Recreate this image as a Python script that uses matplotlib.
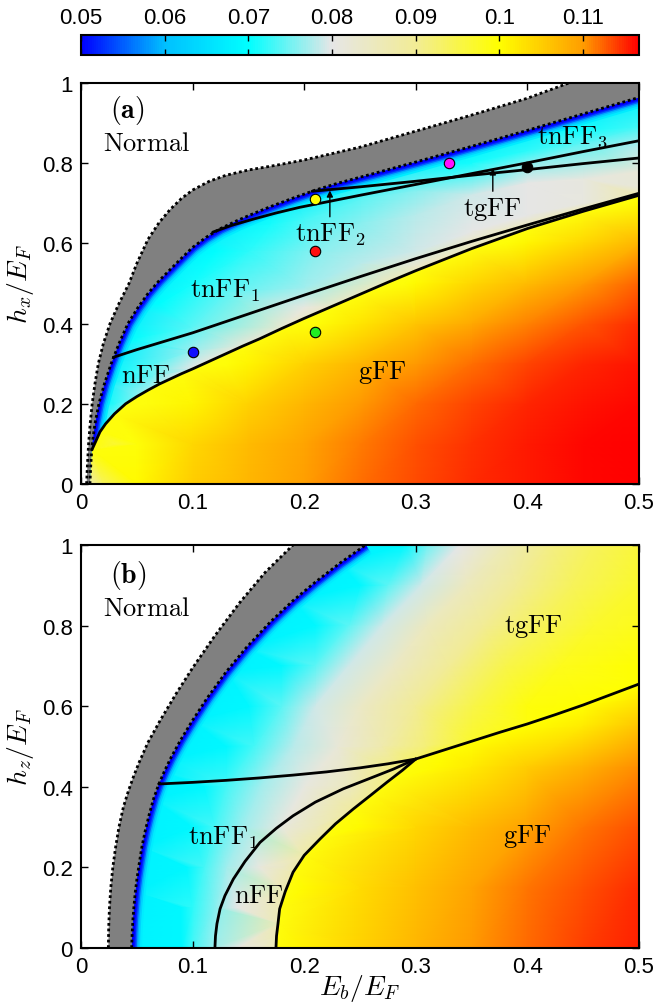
import numpy as np
import matplotlib
matplotlib.use('Agg')
import matplotlib.pyplot as plt
from matplotlib.colors import LinearSegmentedColormap, Normalize
from matplotlib.patches import Polygon
import matplotlib.tri as mtri
import matplotlib.cm as mcm

# ---------------- colour scale ----------------
CB_MIN, CB_MAX = 0.05, 0.1167
CB_TICKS = [0.05, 0.06, 0.07, 0.08, 0.09, 0.10, 0.11]
CB_TICKLABELS = ['0.05', '0.06', '0.07', '0.08', '0.09', '0.1', '0.11']
CMAP_VALUES = [0.05, 0.06, 0.07, 0.08, 0.09, 0.10, 0.11, 0.1167]
CMAP_COLORS = ['#0000ff', '#00c0ff', '#00ffff', '#e6e6e6', '#f2ec96',
               '#ffff00', '#ff9e00', '#ff0000']
# deep-blue rim just inside the superfluid boundary (values 0.068 -> 0.05)
RIM_VALUES = [0.067, 0.063, 0.059, 0.055, 0.052, 0.050]

# ---------------- axes ticks ----------------
X_TICKS = [0, 0.1, 0.2, 0.3, 0.4, 0.5]
X_TICKLABELS = ['0', '0.1', '0.2', '0.3', '0.4', '0.5']
Y_TICKS = [0, 0.2, 0.4, 0.6, 0.8, 1.0]
Y_TICKLABELS = ['0', '0.2', '0.4', '0.6', '0.8', '1']

# ======================= panel (a): h_x =======================
A_OUTER_EB = [0.005, 0.0058, 0.0068, 0.0082, 0.010, 0.0125, 0.0155, 0.020, 0.026, 0.034,
              0.043, 0.050, 0.060, 0.070, 0.080, 0.090, 0.100, 0.115, 0.130, 0.150,
              0.175, 0.200, 0.250, 0.300, 0.350, 0.400, 0.437]
A_OUTER_HX = [0.0, 0.05, 0.10, 0.15, 0.20, 0.25, 0.30, 0.35, 0.40, 0.45,
              0.50, 0.55, 0.61, 0.652, 0.685, 0.712, 0.733, 0.755, 0.77, 0.783,
              0.795, 0.808, 0.84, 0.88, 0.92, 0.962, 1.0]
A_INNER_EB = [0.008, 0.0088, 0.010, 0.0125, 0.016, 0.021, 0.027, 0.034, 0.042, 0.051,
              0.060, 0.070, 0.080, 0.090, 0.100, 0.112, 0.125, 0.140, 0.155, 0.170,
              0.190, 0.210, 0.230, 0.250, 0.300, 0.350, 0.400, 0.450, 0.500]
A_INNER_HX = [0.0, 0.05, 0.10, 0.15, 0.20, 0.25, 0.30, 0.35, 0.40, 0.44,
              0.475, 0.507, 0.535, 0.563, 0.59, 0.615, 0.637, 0.657, 0.675, 0.692,
              0.713, 0.733, 0.75, 0.765, 0.803, 0.842, 0.882, 0.923, 0.964]
# tnFF1 / tnFF3 line (A) and tnFF2 / tgFF line (B)
A_LINE_A_EB = [0.118, 0.135, 0.155, 0.175, 0.196, 0.25, 0.30, 0.35, 0.40, 0.45, 0.50]
A_LINE_A_HX = [0.628, 0.645, 0.661, 0.676, 0.69, 0.72, 0.747, 0.774, 0.801, 0.829, 0.856]
A_LINE_B_EB = [0.207, 0.25, 0.30, 0.35, 0.40, 0.45, 0.50]
A_LINE_B_HX = [0.730, 0.741, 0.755, 0.77, 0.784, 0.799, 0.813]
# tnFF1 / nFF line (C) and nFF / gFF line (D)
A_LINE_C_EB = [0.029, 0.05, 0.075, 0.10, 0.15, 0.20, 0.25, 0.30, 0.35, 0.40, 0.45, 0.50]
A_LINE_C_HX = [0.316, 0.335, 0.356, 0.377, 0.424, 0.471, 0.517, 0.562, 0.605, 0.646, 0.686, 0.725]
A_LINE_D_EB = [0.0097, 0.013, 0.017, 0.022, 0.030, 0.040, 0.050, 0.060, 0.070, 0.080,
               0.090, 0.100, 0.115, 0.130, 0.145, 0.160, 0.180, 0.200, 0.225, 0.250,
               0.275, 0.300, 0.350, 0.400, 0.450, 0.500]
A_LINE_D_HX = [0.085, 0.105, 0.13, 0.15, 0.175, 0.20, 0.218, 0.234, 0.249, 0.262,
               0.275, 0.287, 0.306, 0.325, 0.344, 0.362, 0.388, 0.413, 0.443, 0.473,
               0.503, 0.532, 0.587, 0.637, 0.68, 0.72]

# colour field
A_EDGE_VALUE = 0.068
A_D_TOP_VAL = [0.071, 0.072, 0.073, 0.073, 0.074, 0.075, 0.076, 0.077, 0.078, 0.079,
               0.0795, 0.080, 0.081, 0.0815, 0.082, 0.0825, 0.083, 0.0835, 0.084, 0.0845,
               0.085, 0.085, 0.0855, 0.086, 0.0865, 0.087]
A_TN_EB = [0.030, 0.045, 0.065, 0.045, 0.07, 0.10, 0.10, 0.10, 0.13, 0.15,
           0.20, 0.20, 0.21, 0.20, 0.25, 0.25, 0.25, 0.30, 0.30, 0.30,
           0.30, 0.35, 0.35, 0.35, 0.40, 0.40, 0.40, 0.40, 0.40, 0.45,
           0.45, 0.45, 0.45, 0.50, 0.50, 0.50, 0.50, 0.08, 0.12, 0.17]
A_TN_HX = [0.20, 0.28, 0.27, 0.36, 0.45, 0.50, 0.33, 0.39, 0.48, 0.58,
           0.44, 0.49, 0.58, 0.66, 0.55, 0.65, 0.71, 0.545, 0.58, 0.67,
           0.73, 0.63, 0.72, 0.80, 0.643, 0.67, 0.75, 0.79, 0.83, 0.70,
           0.76, 0.85, 0.88, 0.74, 0.78, 0.84, 0.89, 0.52, 0.58, 0.65]
A_TN_VAL = [0.072, 0.072, 0.075, 0.070, 0.070, 0.071, 0.077, 0.074, 0.074, 0.072,
            0.081, 0.077, 0.076, 0.073, 0.078, 0.076, 0.074, 0.083, 0.079, 0.078,
            0.076, 0.080, 0.079, 0.071, 0.085, 0.080, 0.080, 0.077, 0.072, 0.081,
            0.081, 0.074, 0.071, 0.082, 0.082, 0.078, 0.073, 0.069, 0.070, 0.071]
A_D_BOTTOM_VALUE = 0.099
A_G_EB = [0.008, 0.02, 0.05, 0.10, 0.15, 0.20, 0.25, 0.30, 0.35, 0.40, 0.45, 0.50,
          0.03, 0.05, 0.10, 0.15, 0.20, 0.25, 0.30, 0.35, 0.40, 0.45, 0.50,
          0.06, 0.10, 0.15, 0.20, 0.25, 0.30, 0.35, 0.40, 0.45, 0.50,
          0.13, 0.15, 0.20, 0.25, 0.30, 0.35, 0.40, 0.45, 0.50,
          0.21, 0.25, 0.30, 0.35, 0.40, 0.45, 0.50,
          0.29, 0.30, 0.35, 0.40, 0.45, 0.50,
          0.38, 0.40, 0.45, 0.50,
          0.49, 0.50]
A_G_HX = [0.0] * 12 + [0.1] * 11 + [0.2] * 10 + [0.3] * 9 + [0.4] * 7 + [0.5] * 6 + [0.6] * 4 + [0.7] * 2
A_G_VAL = [0.086, 0.094, 0.1005, 0.105, 0.1075, 0.1098, 0.1118, 0.1135, 0.1147, 0.1156, 0.1163, 0.1167,
           0.0965, 0.0995, 0.104, 0.107, 0.1093, 0.1114, 0.1131, 0.1144, 0.1154, 0.1162, 0.1167,
           0.099, 0.101, 0.1045, 0.1075, 0.110, 0.1122, 0.1137, 0.1149, 0.1158, 0.1164,
           0.0995, 0.101, 0.1045, 0.1075, 0.110, 0.112, 0.1137, 0.1149, 0.1158,
           0.0995, 0.1025, 0.1058, 0.1087, 0.111, 0.1128, 0.1148,
           0.0995, 0.1005, 0.104, 0.107, 0.110, 0.1125,
           0.0995, 0.101, 0.104, 0.1075,
           0.0995, 0.1005]

A_PTS_EB = [0.10, 0.21, 0.21, 0.21, 0.33, 0.40]
A_PTS_HX = [0.33, 0.38, 0.58, 0.71, 0.80, 0.79]
A_PTS_COLORS = ['#1010ff', '#22ee22', '#ff1010', '#ffff00', '#ff10ff', '#000000']

# ======================= panel (b): h_z =======================
B_OUTER_EB = [0.0245, 0.0248, 0.0255, 0.0267, 0.0285, 0.031, 0.034, 0.038, 0.0425, 0.047,
              0.052, 0.060, 0.071, 0.085, 0.100, 0.120, 0.1425, 0.165, 0.190]
B_OUTER_HZ = [0.0, 0.05, 0.10, 0.15, 0.20, 0.25, 0.30, 0.35, 0.39, 0.425,
              0.46, 0.51, 0.565, 0.63, 0.695, 0.775, 0.858, 0.932, 1.0]
B_INNER_EB = [0.0454, 0.0458, 0.0465, 0.0475, 0.0487, 0.0503, 0.0522, 0.0545, 0.0575, 0.061,
              0.065, 0.0695, 0.0745, 0.080, 0.089, 0.100, 0.113, 0.130, 0.148, 0.170,
              0.190, 0.210, 0.232, 0.255]
B_INNER_HZ = [0.0, 0.035, 0.07, 0.105, 0.14, 0.175, 0.21, 0.25, 0.29, 0.33,
              0.37, 0.405, 0.437, 0.469, 0.515, 0.565, 0.62, 0.685, 0.745, 0.81,
              0.862, 0.908, 0.955, 1.0]
B_LINE_E_EB = [0.0697, 0.10, 0.13, 0.16, 0.19, 0.22, 0.25, 0.275, 0.30]
B_LINE_E_HZ = [0.407, 0.411, 0.416, 0.422, 0.429, 0.437, 0.447, 0.457, 0.469]
B_LINE_F_EB = [0.30, 0.325, 0.35, 0.375, 0.40, 0.425, 0.45, 0.475, 0.50]
B_LINE_F_HZ = [0.469, 0.491, 0.513, 0.535, 0.556, 0.579, 0.603, 0.629, 0.655]
B_LINE_G_EB = [0.120, 0.1205, 0.1218, 0.1246, 0.129, 0.1365, 0.147, 0.1604, 0.175, 0.190,
               0.210, 0.235, 0.258, 0.280, 0.300]
B_LINE_G_HZ = [0.0, 0.03, 0.06, 0.097, 0.13, 0.171, 0.215, 0.262, 0.297, 0.328,
               0.362, 0.395, 0.42, 0.444, 0.469]
B_LINE_H_EB = [0.1747, 0.1752, 0.1765, 0.178, 0.183, 0.190, 0.200, 0.214, 0.228, 0.244,
               0.260, 0.274, 0.288, 0.300]
B_LINE_H_HZ = [0.0, 0.03, 0.06, 0.097, 0.14, 0.188, 0.23, 0.27, 0.308, 0.345,
               0.38, 0.411, 0.441, 0.469]

B_EDGE_VALUE = 0.068
B_H_LEFT_VAL = [0.086, 0.086, 0.086, 0.086, 0.087, 0.087, 0.088, 0.088, 0.089, 0.089,
                0.090, 0.091, 0.092, 0.093]
B_F_TOP_VAL = [0.096, 0.097, 0.098, 0.099, 0.100, 0.100, 0.100, 0.100]
B_TN_EB = [0.09, 0.10, 0.12, 0.14, 0.16,
           0.09, 0.10, 0.12, 0.14, 0.16,
           0.095, 0.11, 0.13, 0.16, 0.18,
           0.10, 0.12, 0.145, 0.18, 0.21,
           0.11, 0.13, 0.16, 0.20, 0.24,
           0.13, 0.155, 0.19, 0.23, 0.27, 0.31,
           0.15, 0.18, 0.21, 0.25, 0.30, 0.35, 0.40, 0.45, 0.50,
           0.18, 0.21, 0.24, 0.28, 0.33, 0.38, 0.43, 0.50,
           0.21, 0.24, 0.27, 0.31, 0.36, 0.41, 0.46, 0.50,
           0.25, 0.275, 0.305, 0.345, 0.39, 0.44, 0.50,
           0.29, 0.31, 0.34, 0.38, 0.42, 0.46, 0.50]
B_TN_HZ = ([0.0] * 5 + [0.1] * 5 + [0.2] * 5 + [0.3] * 5 + [0.4] * 5 + [0.5] * 6
           + [0.6] * 9 + [0.7] * 8 + [0.8] * 8 + [0.9] * 7 + [1.0] * 7)
B_TN_VAL = [0.069, 0.073, 0.077, 0.080, 0.083,
            0.069, 0.072, 0.076, 0.080, 0.083,
            0.069, 0.073, 0.077, 0.081, 0.084,
            0.069, 0.073, 0.077, 0.081, 0.085,
            0.069, 0.073, 0.077, 0.081, 0.085,
            0.069, 0.073, 0.078, 0.082, 0.087, 0.092,
            0.069, 0.074, 0.079, 0.084, 0.090, 0.095, 0.099, 0.100, 0.100,
            0.069, 0.074, 0.079, 0.084, 0.090, 0.095, 0.098, 0.100,
            0.069, 0.074, 0.079, 0.085, 0.090, 0.094, 0.097, 0.098,
            0.069, 0.074, 0.079, 0.085, 0.090, 0.094, 0.097,
            0.069, 0.075, 0.080, 0.086, 0.091, 0.094, 0.096]
B_H_RIGHT_VALUE = 0.099
B_F_BOTTOM_VALUE = 0.100
B_G_EB = [0.20, 0.25, 0.30, 0.35, 0.40, 0.45, 0.50,
          0.20, 0.25, 0.30, 0.35, 0.40, 0.45, 0.50,
          0.25, 0.30, 0.35, 0.40, 0.45, 0.50,
          0.32, 0.35, 0.40, 0.45, 0.50,
          0.45, 0.50,
          0.50]
B_G_HZ = [0.0] * 7 + [0.15] * 7 + [0.30] * 6 + [0.45] * 5 + [0.55] * 2 + [0.62]
B_G_VAL = [0.1015, 0.1045, 0.1075, 0.110, 0.1122, 0.114, 0.1153,
           0.1005, 0.1035, 0.1065, 0.1092, 0.1115, 0.1133, 0.1148,
           0.1005, 0.104, 0.107, 0.1095, 0.1117, 0.1133,
           0.1005, 0.102, 0.105, 0.108, 0.1105,
           0.102, 0.106,
           0.102]

# ---------------- figure ----------------
plt.rcParams['font.family'] = ['Liberation Sans', 'DejaVu Sans']
plt.rcParams['mathtext.fontset'] = 'cm'

cmap = LinearSegmentedColormap.from_list(
    'phase', [((v - CB_MIN) / (CB_MAX - CB_MIN), c) for v, c in zip(CMAP_VALUES, CMAP_COLORS)])
norm = Normalize(CB_MIN, CB_MAX)

W, H = 668, 1004
fig = plt.figure(figsize=(W / 100, H / 100), dpi=100)
ax_a = fig.add_axes([81 / W, 1 - 485 / H, 558 / W, 401 / H])
ax_b = fig.add_axes([81 / W, 1 - 949 / H, 558 / W, 403 / H])
cax = fig.add_axes([81 / W, 1 - 56 / H, 558 / W, 20 / H])


def clip_patch(ax, xs, ys):
    return Polygon(np.column_stack([xs, ys]), closed=True, transform=ax.transData,
                   facecolor='none', edgecolor='none')


def field(ax, eb, h, v, clip=None, z=1):
    tri = mtri.Triangulation(np.asarray(eb, float), np.asarray(h, float))
    pc = ax.tripcolor(tri, np.asarray(v, float), shading='gouraud', cmap=cmap,
                      norm=norm, zorder=z, rasterized=True)
    if clip is not None:
        pc.set_clip_path(clip_patch(ax, *clip))
    return pc


def rim(ax, eb, h, clip):
    # blue rim: nested strokes on the boundary, clipped to the superfluid side
    widths = [15.0, 12.0, 9.5, 7.5, 5.5, 3.8]
    for w, v in zip(widths, RIM_VALUES):
        ln, = ax.plot(eb, h, color=cmap(norm(v)), lw=w, zorder=2.5,
                      solid_joinstyle='round', solid_capstyle='butt')
        ln.set_clip_path(clip_patch(ax, *clip))


def gray_band(ax, oeb, oh, ieb, ih):
    xs = list(oeb) + [0.5] + list(ieb)[::-1]
    ys = list(oh) + [1.0] + list(ih)[::-1]
    ax.add_patch(Polygon(np.column_stack([xs, ys]), closed=True, facecolor='#808080',
                         edgecolor='none', zorder=3))


def style(ax, ylabel):
    ax.set_xlim(0, 0.5)
    ax.set_ylim(0, 1)
    ax.set_xticks(X_TICKS)
    ax.set_xticklabels(X_TICKLABELS)
    ax.set_yticks(Y_TICKS)
    ax.set_yticklabels(Y_TICKLABELS)
    ax.tick_params(direction='in', top=True, right=True, length=5, width=1,
                   labelsize=16, pad=6)
    for s in ax.spines.values():
        s.set_linewidth(1.5)
        s.set_zorder(10)
    ax.set_ylabel(ylabel, fontsize=20, labelpad=4)


DOT = dict(color='k', lw=2.0, ls=(0, (1.0, 1.0)), zorder=4)
SOLID = dict(color='k', lw=2.0, zorder=5, solid_capstyle='round', solid_joinstyle='round')
TXT = dict(fontsize=19, ha='center', va='center', zorder=8)

# ---------------- panel (a) ----------------
tn_eb = list(A_INNER_EB) + list(A_TN_EB) + list(A_LINE_D_EB)
tn_h = list(A_INNER_HX) + list(A_TN_HX) + list(A_LINE_D_HX)
tn_v = [A_EDGE_VALUE] * len(A_INNER_EB) + list(A_TN_VAL) + list(A_D_TOP_VAL)
field(ax_a, tn_eb, tn_h, tn_v, z=1)

g_eb = list(A_G_EB) + list(A_LINE_D_EB)
g_h = list(A_G_HX) + list(A_LINE_D_HX)
g_v = list(A_G_VAL) + [A_D_BOTTOM_VALUE] * len(A_LINE_D_EB)
clip_x = [A_INNER_EB[0], A_INNER_EB[1]] + list(A_LINE_D_EB) + [0.5]
clip_y = [A_INNER_HX[0], A_INNER_HX[1]] + list(A_LINE_D_HX) + [0.0]
field(ax_a, g_eb, g_h, g_v, clip=(clip_x, clip_y), z=2)

# rim only inside the superfluid region above the nFF/gFF line
tn_x = [A_LINE_D_EB[0]] + list(A_INNER_EB[2:]) + list(A_LINE_D_EB)[::-1]
tn_y = [A_LINE_D_HX[0]] + list(A_INNER_HX[2:]) + list(A_LINE_D_HX)[::-1]
rim(ax_a, A_INNER_EB, A_INNER_HX, clip=(tn_x, tn_y))
gray_band(ax_a, A_OUTER_EB, A_OUTER_HX, A_INNER_EB, A_INNER_HX)
ax_a.plot(A_OUTER_EB, A_OUTER_HX, **DOT)
ax_a.plot(A_INNER_EB, A_INNER_HX, **DOT)
for xs, ys in [(A_LINE_A_EB, A_LINE_A_HX), (A_LINE_B_EB, A_LINE_B_HX),
               (A_LINE_C_EB, A_LINE_C_HX), (A_LINE_D_EB, A_LINE_D_HX)]:
    ax_a.plot(xs, ys, **SOLID)
for x, y, c in zip(A_PTS_EB, A_PTS_HX, A_PTS_COLORS):
    ax_a.plot(x, y, 'o', ms=7.5, mfc=c, mec='k', mew=0.8, zorder=7)

ax_a.text(0.026, 0.933, r'$\mathbf{(a)}$', fontsize=20, ha='left', va='center', zorder=8)
ax_a.text(0.02, 0.85, r'$\mathrm{Normal}$', fontsize=19, ha='left', va='center', zorder=8)
ax_a.text(0.129, 0.484, r'$\mathrm{tnFF}_1$', **TXT)
ax_a.text(0.058, 0.273, r'$\mathrm{nFF}$', **TXT)
ax_a.text(0.27, 0.28, r'$\mathrm{gFF}$', **TXT)
ax_a.text(0.44, 0.867, r'$\mathrm{tnFF}_3$', **TXT)
arrow = dict(arrowstyle='-|>', color='k', lw=1.0, shrinkA=1, shrinkB=0, mutation_scale=9)
ax_a.annotate(r'$\mathrm{tnFF}_2$', xy=(0.223, 0.732), xytext=(0.223, 0.623),
              arrowprops=arrow, **TXT)
ax_a.annotate(r'$\mathrm{tgFF}$', xy=(0.369, 0.787), xytext=(0.369, 0.686),
              arrowprops=arrow, **TXT)
style(ax_a, r'$h_x/E_F$')

# ---------------- panel (b) ----------------
tn_eb = (list(B_INNER_EB) + list(B_TN_EB) + list(B_LINE_H_EB) + list(B_LINE_F_EB[1:]))
tn_h = (list(B_INNER_HZ) + list(B_TN_HZ) + list(B_LINE_H_HZ) + list(B_LINE_F_HZ[1:]))
tn_v = ([B_EDGE_VALUE] * len(B_INNER_EB) + list(B_TN_VAL) + list(B_H_LEFT_VAL)
        + list(B_F_TOP_VAL))
field(ax_b, tn_eb, tn_h, tn_v, z=1)

g_eb = list(B_G_EB) + list(B_LINE_H_EB) + list(B_LINE_F_EB[1:])
g_h = list(B_G_HZ) + list(B_LINE_H_HZ) + list(B_LINE_F_HZ[1:])
g_v = (list(B_G_VAL) + [B_H_RIGHT_VALUE] * len(B_LINE_H_EB)
       + [B_F_BOTTOM_VALUE] * (len(B_LINE_F_EB) - 1))
clip_x = list(B_LINE_H_EB) + list(B_LINE_F_EB[1:]) + [0.5]
clip_y = list(B_LINE_H_HZ) + list(B_LINE_F_HZ[1:]) + [0.0]
field(ax_b, g_eb, g_h, g_v, clip=(clip_x, clip_y), z=2)

sf_x = list(B_INNER_EB) + [0.5, 0.5]
sf_y = list(B_INNER_HZ) + [1.0, 0.0]
rim(ax_b, B_INNER_EB, B_INNER_HZ, clip=(sf_x, sf_y))
gray_band(ax_b, B_OUTER_EB, B_OUTER_HZ, B_INNER_EB, B_INNER_HZ)
ax_b.plot(B_OUTER_EB, B_OUTER_HZ, **DOT)
ax_b.plot(B_INNER_EB, B_INNER_HZ, **DOT)
for xs, ys in [(B_LINE_E_EB, B_LINE_E_HZ), (B_LINE_F_EB, B_LINE_F_HZ),
               (B_LINE_G_EB, B_LINE_G_HZ), (B_LINE_H_EB, B_LINE_H_HZ)]:
    ax_b.plot(xs, ys, **SOLID)

ax_b.text(0.026, 0.928, r'$\mathbf{(b)}$', fontsize=20, ha='left', va='center', zorder=8)
ax_b.text(0.02, 0.844, r'$\mathrm{Normal}$', fontsize=19, ha='left', va='center', zorder=8)
ax_b.text(0.405, 0.80, r'$\mathrm{tgFF}$', **TXT)
ax_b.text(0.1275, 0.275, r'$\mathrm{tnFF}_1$', **TXT)
ax_b.text(0.159, 0.131, r'$\mathrm{nFF}$', **TXT)
ax_b.text(0.40, 0.279, r'$\mathrm{gFF}$', **TXT)
style(ax_b, r'$h_z/E_F$')
ax_b.set_xlabel(r'$E_b/E_F$', fontsize=20, labelpad=-4)

# ---------------- colour bar ----------------
sm = mcm.ScalarMappable(norm=norm, cmap=cmap)
cb = fig.colorbar(sm, cax=cax, orientation='horizontal', ticks=CB_TICKS)
cax.set_xticklabels(CB_TICKLABELS)
cax.tick_params(axis='x', which='major', direction='in', top=True, bottom=True,
                labeltop=True, labelbottom=False, length=4, width=1, labelsize=16, pad=5)
cax.tick_params(axis='x', which='minor', length=0)
cb.outline.set_linewidth(1.5)

fig.savefig('out.png', dpi=100)
